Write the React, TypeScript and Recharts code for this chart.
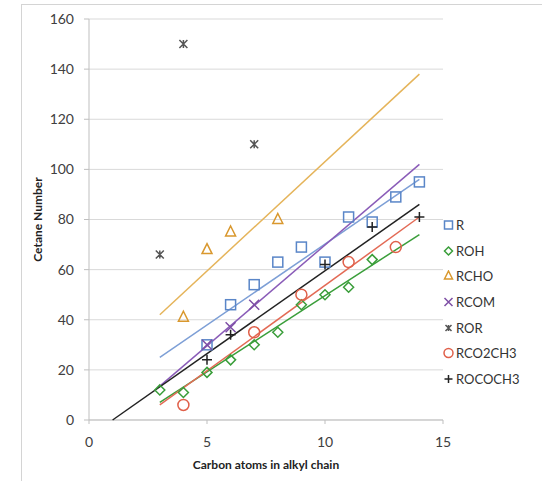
import React from "react"
import { ScatterChart, Scatter, XAxis, YAxis, CartesianGrid, Legend } from "recharts"

const xTicks = [0, 5, 10, 15]
const yTicks = [0, 20, 40, 60, 80, 100, 120, 140, 160]

const rX = [5, 6, 7, 8, 9, 10, 11, 12, 13, 14]
const rY = [30, 46, 54, 63, 69, 63, 81, 79, 89, 95]
const rohX = [3, 4, 5, 6, 7, 8, 9, 10, 11, 12]
const rohY = [12, 11, 19, 24, 30, 35, 46, 50, 53, 64]
const rchoX = [4, 5, 6, 8]
const rchoY = [41, 68, 75, 80]
const rcomX = [5, 6, 7]
const rcomY = [30, 37, 46]
const rorX = [3, 4, 7]
const rorY = [66, 150, 110]
const rco2ch3X = [4, 7, 9, 11, 13]
const rco2ch3Y = [6, 35, 50, 63, 69]
const rococh3X = [5, 6, 10, 12, 14]
const rococh3Y = [24, 34, 62, 77, 81]

// trendline ends
const rTrendX = [3, 14]
const rTrendY = [25, 96]
const rohTrendX = [3, 14]
const rohTrendY = [7, 74]
const rchoTrendX = [3, 14]
const rchoTrendY = [42, 138]
const rcomTrendX = [3, 14]
const rcomTrendY = [13.5, 102]
const rco2ch3TrendX = [3, 14]
const rco2ch3TrendY = [6, 81]
const rococh3TrendX = [1, 14]
const rococh3TrendY = [0, 86]

const pts = (xs: number[], ys: number[]) => xs.map((x, i) => ({ x, y: ys[i] }))

type Mark = "square" | "diamond" | "triangle" | "x" | "star" | "circle" | "plus"

const series: { name: string; color: string; mark: Mark; data: { x: number; y: number }[]; trend?: { x: number; y: number }[]; trendColor?: string }[] = [
  { name: "R", color: "#5a86c8", mark: "square", data: pts(rX, rY), trend: pts(rTrendX, rTrendY), trendColor: "#7d9fd6" },
  { name: "ROH", color: "#3a9e3a", mark: "diamond", data: pts(rohX, rohY), trend: pts(rohTrendX, rohTrendY), trendColor: "#3a9e3a" },
  { name: "RCHO", color: "#d9982e", mark: "triangle", data: pts(rchoX, rchoY), trend: pts(rchoTrendX, rchoTrendY), trendColor: "#e5b45a" },
  { name: "RCOM", color: "#7d4ea5", mark: "x", data: pts(rcomX, rcomY), trend: pts(rcomTrendX, rcomTrendY), trendColor: "#8a5cb8" },
  { name: "ROR", color: "#555555", mark: "star", data: pts(rorX, rorY) },
  { name: "RCO2CH3", color: "#e0604a", mark: "circle", data: pts(rco2ch3X, rco2ch3Y), trend: pts(rco2ch3TrendX, rco2ch3TrendY), trendColor: "#e36a55" },
  { name: "ROCOCH3", color: "#222222", mark: "plus", data: pts(rococh3X, rococh3Y), trend: pts(rococh3TrendX, rococh3TrendY), trendColor: "#222222" },
]

function glyph(mark: Mark, cx: number, cy: number, color: string, s = 5) {
  const sw = 1.5
  switch (mark) {
    case "square":
      return <rect x={cx - s} y={cy - s} width={s * 2} height={s * 2} fill="none" stroke={color} strokeWidth={sw} />
    case "diamond":
      return <path d={`M${cx},${cy - s}L${cx + s},${cy}L${cx},${cy + s}L${cx - s},${cy}Z`} fill="none" stroke={color} strokeWidth={sw} />
    case "triangle":
      return <path d={`M${cx},${cy - s - 1}L${cx + s},${cy + s - 1}L${cx - s},${cy + s - 1}Z`} fill="none" stroke={color} strokeWidth={sw} />
    case "x":
      return <path d={`M${cx - s},${cy - s}L${cx + s},${cy + s}M${cx - s},${cy + s}L${cx + s},${cy - s}`} stroke={color} strokeWidth={sw} />
    case "star":
      return <path d={`M${cx - s + 1},${cy - s + 1}L${cx + s - 1},${cy + s - 1}M${cx - s + 1},${cy + s - 1}L${cx + s - 1},${cy - s + 1}M${cx},${cy - s + 1}L${cx},${cy + s - 1}`} stroke={color} strokeWidth={sw} />
    case "circle":
      return <circle cx={cx} cy={cy} r={s + 0.5} fill="none" stroke={color} strokeWidth={sw} />
    case "plus":
      return <path d={`M${cx - s},${cy}L${cx + s},${cy}M${cx},${cy - s}L${cx},${cy + s}`} stroke={color} strokeWidth={sw} />
  }
}

const font = "Lato, 'Liberation Sans', sans-serif"

function LegendBox() {
  return (
    <div style={{ fontFamily: font, fontSize: 13, color: "#333" }}>
      {series.map((s) => (
        <div key={s.name} style={{ display: "flex", alignItems: "center", height: 25.7 }}>
          <svg width={11} height={12} style={{ marginRight: 2 }}>
            {glyph(s.mark, 5.5, 6, s.color, 4)}
          </svg>
          <span>{s.name}</span>
        </div>
      ))}
    </div>
  )
}

export default function App() {
  return (
    <div style={{ position: "absolute", left: 0, top: 0, width: 542, height: 481, background: "#fff" }}>
      <div style={{ position: "absolute", left: 21, top: 4, width: 521, height: 477, borderLeft: "1px solid #d4d4d4", borderTop: "1px solid #d4d4d4" }} />
      <ScatterChart width={542} height={481} margin={{ top: 19, right: 99, bottom: 11, left: 29 }}>
        <CartesianGrid horizontal vertical={false} stroke="#d9d9d9" />
        <XAxis
          type="number"
          dataKey="x"
          domain={[0, 15]}
          ticks={xTicks}
          interval={0}
          tickSize={4}
          tickMargin={13}
          height={50}
          stroke="#bfbfbf"
          tick={{ fill: "#404040", fontSize: 14, fontFamily: font }}
          label={{
            content: (p: any) => {
              const vb = p.viewBox || { x: 89, y: 420, width: 354 }
              return (
                <text x={vb.x + vb.width / 2} y={vb.y + 49} textAnchor="middle" fontFamily={font} fontSize={12} fontWeight="bold" fill="#222">
                  Carbon atoms in alkyl chain
                </text>
              )
            },
          }}
        />
        <YAxis
          type="number"
          dataKey="y"
          domain={[0, 160]}
          ticks={yTicks}
          interval={0}
          width={60}
          tickSize={5}
          tickMargin={10}
          stroke="#bfbfbf"
          tick={{ fill: "#404040", fontSize: 14, fontFamily: font }}
          label={{
            content: (p: any) => {
              const vb = p.viewBox || { x: 29, y: 19, height: 401 }
              const cx = vb.x + 13
              const cy = vb.y + vb.height / 2
              return (
                <text x={cx} y={cy} transform={`rotate(-90 ${cx} ${cy})`} textAnchor="middle" fontFamily={font} fontSize={12} fontWeight="bold" fill="#222">
                  Cetane Number
                </text>
              )
            },
          }}
        />
        {series
          .filter((s) => s.trend)
          .map((s) => (
            <Scatter
              key={s.name + "-trend"}
              data={s.trend}
              line={{ stroke: s.trendColor, strokeWidth: 1.5 }}
              shape={() => <g />}
              legendType="none"
              isAnimationActive={false}
            />
          ))}
        {series.map((s) => (
          <Scatter
            key={s.name}
            name={s.name}
            data={s.data}
            shape={(p: any) => glyph(s.mark, p.cx, p.cy, s.color)}
            isAnimationActive={false}
          />
        ))}
        <Legend
          layout="vertical"
          align="center"
          verticalAlign="middle"
          content={() => <LegendBox />}
          wrapperStyle={{ left: 443, top: 212, width: 99, height: 180 }}
        />
      </ScatterChart>
    </div>
  )
}
